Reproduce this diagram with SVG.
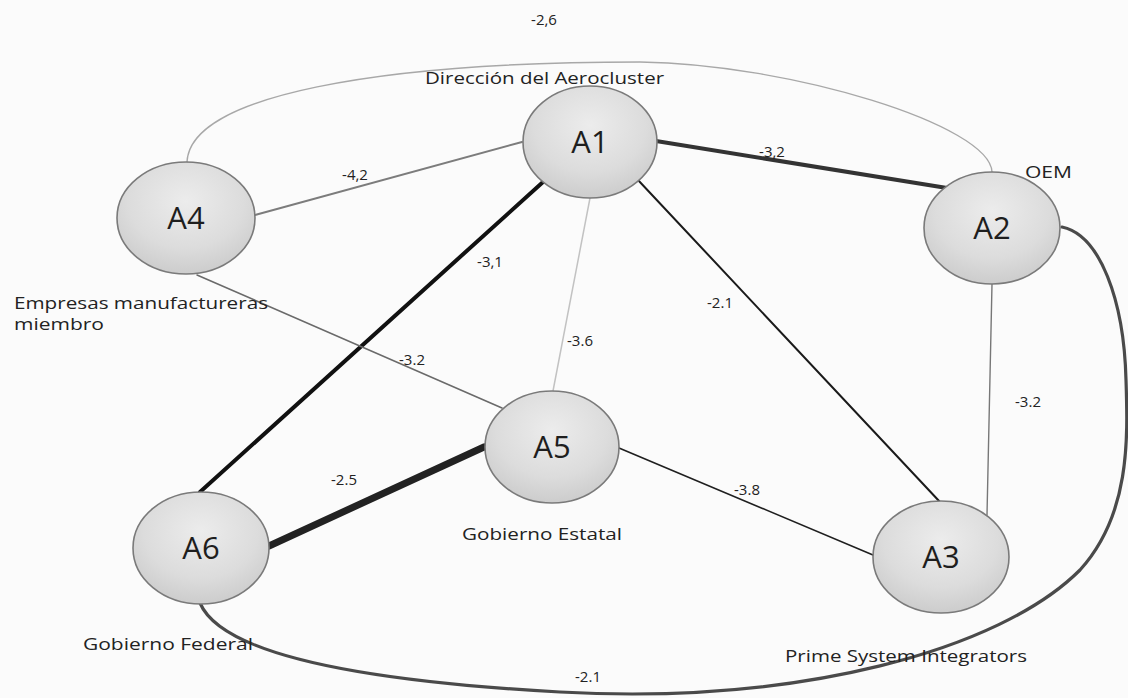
<svg xmlns="http://www.w3.org/2000/svg" width="1128" height="698" viewBox="0 0 1128 698">
  <defs>
    <radialGradient id="nodeFill" cx="50%" cy="35%" r="70%">
      <stop offset="0%" stop-color="#ececec"/>
      <stop offset="60%" stop-color="#dcdcdc"/>
      <stop offset="100%" stop-color="#c9c9c9"/>
    </radialGradient>
    <style>
      .node ellipse { fill: url(#nodeFill); stroke: #7a7a7a; stroke-width: 1.6; }
      .node text { font-family: "Open Sans", "Liberation Sans", sans-serif; font-size: 31px; fill: #1e1e1e; text-anchor: middle; }
      .lbl { font-family: "Open Sans", "Liberation Sans", sans-serif; font-size: 17px; fill: #222; }
      .w { font-family: "Open Sans", "Liberation Sans", sans-serif; font-size: 15px; fill: #222; text-anchor: middle; }
      .edge { fill: none; stroke-linecap: round; }
    </style>
  </defs>

  <rect width="1128" height="698" fill="#fbfbfb"/>

  <!-- connectors -->
  <g id="connectors">
    <!-- A4 - A2 arc over the top -->
    <path class="edge" d="M187,162 C190,95 380,62 640,62 C790,64 990,125 992,172" stroke="#a8a8a8" stroke-width="1.4"/>
    <!-- A4 - A1 -->
    <path class="edge" d="M255,215 L522,142" stroke="#7c7c7c" stroke-width="2"/>
    <!-- A1 - A2 -->
    <path class="edge" d="M656,141 L947,188" stroke="#333" stroke-width="4"/>
    <!-- A1 - A6 -->
    <path class="edge" d="M543,182 L200,492" stroke="#111" stroke-width="4"/>
    <!-- A1 - A5 -->
    <path class="edge" d="M590,198 L553,391" stroke="#c2c2c2" stroke-width="1.5"/>
    <!-- A1 - A3 -->
    <path class="edge" d="M638,180 L940,502" stroke="#1a1a1a" stroke-width="2"/>
    <!-- A4 - A5 -->
    <path class="edge" d="M197,275 L502,408" stroke="#6a6a6a" stroke-width="1.6"/>
    <!-- A5 - A6 -->
    <path class="edge" d="M484,447 L269,546" stroke="#222" stroke-width="7"/>
    <!-- A5 - A3 -->
    <path class="edge" d="M619,448 L873,555" stroke="#1f1f1f" stroke-width="1.6"/>
    <!-- A2 - A3 -->
    <path class="edge" d="M992,284 L987,515" stroke="#777" stroke-width="1.4"/>
    <!-- A6 - A2 sweep along the bottom and right side -->
    <path class="edge" d="M200,603 C220,650 340,680 560,692 C800,705 1000,650 1080,570 C1130,515 1128,440 1126,380 C1124,300 1100,235 1062,227" stroke="#4a4a4a" stroke-width="3.2"/>
  </g>

  <!-- edge weights -->
  <g id="weights">
    <text class="w" x="544" y="25">-2,6</text>
    <text class="w" x="355" y="180">-4,2</text>
    <text class="w" x="772" y="157">-3,2</text>
    <text class="w" x="490" y="267">-3,1</text>
    <text class="w" x="720" y="308">-2.1</text>
    <text class="w" x="580" y="346">-3.6</text>
    <text class="w" x="412" y="365">-3.2</text>
    <text class="w" x="1028" y="407">-3.2</text>
    <text class="w" x="344" y="485">-2.5</text>
    <text class="w" x="747" y="495">-3.8</text>
    <text class="w" x="588" y="682">-2.1</text>
  </g>

  <!-- actor nodes -->
  <g id="A1" class="node">
    <ellipse cx="590" cy="142" rx="67" ry="56"/>
    <text x="590" y="153">A1</text>
  </g>
  <g id="A2" class="node">
    <ellipse cx="992" cy="228" rx="68" ry="56"/>
    <text x="992" y="239">A2</text>
  </g>
  <g id="A3" class="node">
    <ellipse cx="941" cy="557" rx="68" ry="56"/>
    <text x="941" y="568">A3</text>
  </g>
  <g id="A4" class="node">
    <ellipse cx="186" cy="218" rx="69" ry="56"/>
    <text x="186" y="229">A4</text>
  </g>
  <g id="A5" class="node">
    <ellipse cx="552" cy="447" rx="67" ry="56"/>
    <text x="552" y="458">A5</text>
  </g>
  <g id="A6" class="node">
    <ellipse cx="201" cy="548" rx="68" ry="56"/>
    <text x="201" y="559">A6</text>
  </g>

  <!-- actor names -->
  <g id="names">
    <text class="lbl" x="425" y="84" textLength="239" lengthAdjust="spacingAndGlyphs">Dirección del Aerocluster</text>
    <text class="lbl" x="1025" y="178" textLength="47" lengthAdjust="spacingAndGlyphs">OEM</text>
    <text class="lbl" x="14" y="309" textLength="254" lengthAdjust="spacingAndGlyphs">Empresas manufactureras</text>
    <text class="lbl" x="14" y="330" textLength="90" lengthAdjust="spacingAndGlyphs">miembro</text>
    <text class="lbl" x="462" y="540" textLength="160" lengthAdjust="spacingAndGlyphs">Gobierno Estatal</text>
    <text class="lbl" x="83" y="650" textLength="170" lengthAdjust="spacingAndGlyphs">Gobierno Federal</text>
    <text class="lbl" x="785" y="662" textLength="242" lengthAdjust="spacingAndGlyphs">Prime System Integrators</text>
  </g>
</svg>
